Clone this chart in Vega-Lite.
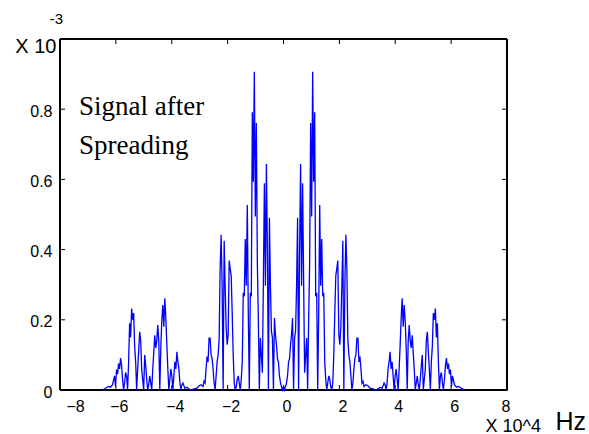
{
  "$schema": "https://vega.github.io/schema/vega-lite/v6.json",
  "width": 447,
  "height": 351,
  "autosize": {"type": "none"},
  "padding": {"left": 60, "top": 39, "right": 82, "bottom": 44},
  "background": "white",
  "title": {
    "text": ["Signal after", "Spreading"],
    "anchor": "start",
    "frame": "group",
    "orient": "top",
    "font": "Liberation Serif",
    "fontSize": 27,
    "fontWeight": "normal",
    "color": "black",
    "baseline": "alphabetic",
    "lineHeight": 39,
    "offset": 0,
    "dx": 19,
    "dy": 170
  },
  "config": {
    "view": {"stroke": null},
    "axis": {
      "grid": false,
      "domain": true,
      "domainColor": "#000000",
      "domainWidth": 1,
      "ticks": false,
      "labelFont": "Liberation Sans",
      "labelFontSize": 16,
      "labelColor": "black",
      "titleFont": "Liberation Sans",
      "titleFontWeight": "normal",
      "titleColor": "black"
    }
  },
  "datasets": {
    "xt": [{"t": -8}, {"t": -6}, {"t": -4}, {"t": -2}, {"t": 0}, {"t": 2}, {"t": 4}, {"t": 6}, {"t": 8}],
    "yt": [{"t": 0}, {"t": 0.2}, {"t": 0.4}, {"t": 0.6}, {"t": 0.8}],
    "spec": [
      {"f": -6.48, "p": 0}, {"f": -6.372, "p": 0.005}, {"f": -6.264, "p": 0.01}, {"f": -6.192, "p": 0.008},
      {"f": -6.12, "p": 0.015}, {"f": -6.048, "p": 0.04}, {"f": -6.012, "p": 0.01}, {"f": -5.976, "p": 0.058},
      {"f": -5.94, "p": 0.045}, {"f": -5.904, "p": 0.075}, {"f": -5.868, "p": 0.06}, {"f": -5.832, "p": 0.091},
      {"f": -5.796, "p": 0.07}, {"f": -5.76, "p": 0.03}, {"f": -5.724, "p": 0}, {"f": -5.688, "p": 0.02},
      {"f": -5.652, "p": 0.05}, {"f": -5.616, "p": 0.04}, {"f": -5.58, "p": 0}, {"f": -5.544, "p": 0.08},
      {"f": -5.508, "p": 0.19}, {"f": -5.472, "p": 0.15}, {"f": -5.436, "p": 0.232}, {"f": -5.4, "p": 0.2},
      {"f": -5.364, "p": 0.219}, {"f": -5.328, "p": 0.125}, {"f": -5.292, "p": 0.08}, {"f": -5.256, "p": 0},
      {"f": -5.22, "p": 0.06}, {"f": -5.184, "p": 0.11}, {"f": -5.148, "p": 0.166}, {"f": -5.112, "p": 0.14},
      {"f": -5.076, "p": 0.06}, {"f": -5.04, "p": 0.03}, {"f": -5.004, "p": 0}, {"f": -4.968, "p": 0.1},
      {"f": -4.932, "p": 0.07}, {"f": -4.896, "p": 0.03}, {"f": -4.86, "p": 0}, {"f": -4.824, "p": 0.015},
      {"f": -4.788, "p": 0.04}, {"f": -4.752, "p": 0.02}, {"f": -4.716, "p": 0}, {"f": -4.68, "p": 0.06},
      {"f": -4.644, "p": 0.105}, {"f": -4.608, "p": 0.156}, {"f": -4.572, "p": 0.12}, {"f": -4.536, "p": 0.14},
      {"f": -4.5, "p": 0.185}, {"f": -4.464, "p": 0.14}, {"f": -4.428, "p": 0}, {"f": -4.392, "p": 0.12},
      {"f": -4.356, "p": 0.198}, {"f": -4.32, "p": 0.242}, {"f": -4.284, "p": 0.18}, {"f": -4.248, "p": 0.261},
      {"f": -4.212, "p": 0.205}, {"f": -4.176, "p": 0.13}, {"f": -4.14, "p": 0.06}, {"f": -4.104, "p": 0},
      {"f": -4.068, "p": 0.03}, {"f": -4.032, "p": 0.06}, {"f": -3.996, "p": 0.04}, {"f": -3.96, "p": 0},
      {"f": -3.924, "p": 0.04}, {"f": -3.888, "p": 0.08}, {"f": -3.852, "p": 0.06}, {"f": -3.816, "p": 0.109},
      {"f": -3.78, "p": 0.08}, {"f": -3.744, "p": 0.06}, {"f": -3.708, "p": 0.02}, {"f": -3.672, "p": 0},
      {"f": -3.636, "p": 0.015}, {"f": -3.6, "p": 0.02}, {"f": -3.564, "p": 0.012}, {"f": -3.528, "p": 0.005},
      {"f": -3.456, "p": 0.008}, {"f": -3.384, "p": 0.003}, {"f": -3.312, "p": 0}, {"f": -3.204, "p": 0.003},
      {"f": -3.096, "p": 0.005}, {"f": -3.024, "p": 0.012}, {"f": -2.952, "p": 0.015}, {"f": -2.88, "p": 0.01},
      {"f": -2.844, "p": 0.025}, {"f": -2.808, "p": 0.02}, {"f": -2.772, "p": 0.06}, {"f": -2.736, "p": 0.095},
      {"f": -2.7, "p": 0.08}, {"f": -2.664, "p": 0.148}, {"f": -2.628, "p": 0.148}, {"f": -2.592, "p": 0.1},
      {"f": -2.556, "p": 0.09}, {"f": -2.52, "p": 0.06}, {"f": -2.484, "p": 0.02}, {"f": -2.448, "p": 0},
      {"f": -2.412, "p": 0.04}, {"f": -2.376, "p": 0.08}, {"f": -2.34, "p": 0.1}, {"f": -2.304, "p": 0.142},
      {"f": -2.268, "p": 0.346}, {"f": -2.232, "p": 0.442}, {"f": -2.196, "p": 0.297}, {"f": -2.16, "p": 0},
      {"f": -2.124, "p": 0.425}, {"f": -2.088, "p": 0.297}, {"f": -2.052, "p": 0.178}, {"f": -2.016, "p": 0.129},
      {"f": -1.98, "p": 0.158}, {"f": -1.944, "p": 0.369}, {"f": -1.908, "p": 0.346}, {"f": -1.872, "p": 0.326},
      {"f": -1.836, "p": 0.218}, {"f": -1.8, "p": 0.1}, {"f": -1.764, "p": 0.02}, {"f": -1.728, "p": 0},
      {"f": -1.692, "p": 0.01}, {"f": -1.656, "p": 0.03}, {"f": -1.62, "p": 0.04}, {"f": -1.584, "p": 0.02},
      {"f": -1.548, "p": 0}, {"f": -1.512, "p": 0.03}, {"f": -1.476, "p": 0.08}, {"f": -1.44, "p": 0.277},
      {"f": -1.404, "p": 0.267}, {"f": -1.368, "p": 0.43}, {"f": -1.332, "p": 0.297}, {"f": -1.296, "p": 0.527},
      {"f": -1.26, "p": 0.218}, {"f": -1.224, "p": 0}, {"f": -1.188, "p": 0.277}, {"f": -1.152, "p": 0.267},
      {"f": -1.116, "p": 0.791}, {"f": -1.08, "p": 0.593}, {"f": -1.044, "p": 0.907}, {"f": -1.008, "p": 0.494},
      {"f": -0.972, "p": 0.761}, {"f": -0.936, "p": 0.362}, {"f": -0.9, "p": 0.198}, {"f": -0.864, "p": 0},
      {"f": -0.828, "p": 0.148}, {"f": -0.792, "p": 0.099}, {"f": -0.756, "p": 0.049}, {"f": -0.72, "p": 0.313},
      {"f": -0.684, "p": 0.589}, {"f": -0.648, "p": 0.297}, {"f": -0.612, "p": 0.644}, {"f": -0.576, "p": 0.396},
      {"f": -0.54, "p": 0}, {"f": -0.504, "p": 0.491}, {"f": -0.468, "p": 0.297}, {"f": -0.432, "p": 0.168},
      {"f": -0.396, "p": 0.148}, {"f": -0.36, "p": 0}, {"f": -0.324, "p": 0.205}, {"f": -0.288, "p": 0.158},
      {"f": -0.252, "p": 0.129}, {"f": -0.216, "p": 0.089}, {"f": -0.18, "p": 0.079}, {"f": -0.144, "p": 0.04},
      {"f": -0.108, "p": 0.02}, {"f": -0.072, "p": 0.01}, {"f": -0.036, "p": 0}, {"f": 0, "p": 0.01},
      {"f": 0.036, "p": 0}, {"f": 0.072, "p": 0.01}, {"f": 0.108, "p": 0.02}, {"f": 0.144, "p": 0.04},
      {"f": 0.18, "p": 0.079}, {"f": 0.216, "p": 0.089}, {"f": 0.252, "p": 0.129}, {"f": 0.288, "p": 0.158},
      {"f": 0.324, "p": 0.205}, {"f": 0.36, "p": 0}, {"f": 0.396, "p": 0.148}, {"f": 0.432, "p": 0.168},
      {"f": 0.468, "p": 0.297}, {"f": 0.504, "p": 0.491}, {"f": 0.54, "p": 0}, {"f": 0.576, "p": 0.396},
      {"f": 0.612, "p": 0.644}, {"f": 0.648, "p": 0.297}, {"f": 0.684, "p": 0.589}, {"f": 0.72, "p": 0.313},
      {"f": 0.756, "p": 0.049}, {"f": 0.792, "p": 0.099}, {"f": 0.828, "p": 0.148}, {"f": 0.864, "p": 0},
      {"f": 0.9, "p": 0.198}, {"f": 0.936, "p": 0.362}, {"f": 0.972, "p": 0.761}, {"f": 1.008, "p": 0.494},
      {"f": 1.044, "p": 0.907}, {"f": 1.08, "p": 0.593}, {"f": 1.116, "p": 0.791}, {"f": 1.152, "p": 0.267},
      {"f": 1.188, "p": 0.277}, {"f": 1.224, "p": 0}, {"f": 1.26, "p": 0.218}, {"f": 1.296, "p": 0.527},
      {"f": 1.332, "p": 0.297}, {"f": 1.368, "p": 0.43}, {"f": 1.404, "p": 0.267}, {"f": 1.44, "p": 0.277},
      {"f": 1.476, "p": 0.08}, {"f": 1.512, "p": 0.03}, {"f": 1.548, "p": 0}, {"f": 1.584, "p": 0.02},
      {"f": 1.62, "p": 0.04}, {"f": 1.656, "p": 0.03}, {"f": 1.692, "p": 0.01}, {"f": 1.728, "p": 0},
      {"f": 1.764, "p": 0.02}, {"f": 1.8, "p": 0.1}, {"f": 1.836, "p": 0.218}, {"f": 1.872, "p": 0.326},
      {"f": 1.908, "p": 0.346}, {"f": 1.944, "p": 0.369}, {"f": 1.98, "p": 0.158}, {"f": 2.016, "p": 0.129},
      {"f": 2.052, "p": 0.178}, {"f": 2.088, "p": 0.297}, {"f": 2.124, "p": 0.425}, {"f": 2.16, "p": 0},
      {"f": 2.196, "p": 0.297}, {"f": 2.232, "p": 0.442}, {"f": 2.268, "p": 0.346}, {"f": 2.304, "p": 0.142},
      {"f": 2.34, "p": 0.1}, {"f": 2.376, "p": 0.08}, {"f": 2.412, "p": 0.04}, {"f": 2.448, "p": 0},
      {"f": 2.484, "p": 0.02}, {"f": 2.52, "p": 0.06}, {"f": 2.556, "p": 0.09}, {"f": 2.592, "p": 0.1},
      {"f": 2.628, "p": 0.148}, {"f": 2.664, "p": 0.148}, {"f": 2.7, "p": 0.08}, {"f": 2.736, "p": 0.095},
      {"f": 2.772, "p": 0.06}, {"f": 2.808, "p": 0.02}, {"f": 2.844, "p": 0.025}, {"f": 2.88, "p": 0.01},
      {"f": 2.952, "p": 0.015}, {"f": 3.024, "p": 0.012}, {"f": 3.096, "p": 0.005}, {"f": 3.204, "p": 0.003},
      {"f": 3.312, "p": 0}, {"f": 3.384, "p": 0.003}, {"f": 3.456, "p": 0.008}, {"f": 3.528, "p": 0.005},
      {"f": 3.564, "p": 0.012}, {"f": 3.6, "p": 0.02}, {"f": 3.636, "p": 0.015}, {"f": 3.672, "p": 0},
      {"f": 3.708, "p": 0.02}, {"f": 3.744, "p": 0.06}, {"f": 3.78, "p": 0.08}, {"f": 3.816, "p": 0.109},
      {"f": 3.852, "p": 0.06}, {"f": 3.888, "p": 0.08}, {"f": 3.924, "p": 0.04}, {"f": 3.96, "p": 0},
      {"f": 3.996, "p": 0.04}, {"f": 4.032, "p": 0.06}, {"f": 4.068, "p": 0.03}, {"f": 4.104, "p": 0},
      {"f": 4.14, "p": 0.06}, {"f": 4.176, "p": 0.13}, {"f": 4.212, "p": 0.205}, {"f": 4.248, "p": 0.261},
      {"f": 4.284, "p": 0.18}, {"f": 4.32, "p": 0.242}, {"f": 4.356, "p": 0.198}, {"f": 4.392, "p": 0.12},
      {"f": 4.428, "p": 0}, {"f": 4.464, "p": 0.14}, {"f": 4.5, "p": 0.185}, {"f": 4.536, "p": 0.14},
      {"f": 4.572, "p": 0.12}, {"f": 4.608, "p": 0.156}, {"f": 4.644, "p": 0.105}, {"f": 4.68, "p": 0.06},
      {"f": 4.716, "p": 0}, {"f": 4.752, "p": 0.02}, {"f": 4.788, "p": 0.04}, {"f": 4.824, "p": 0.015},
      {"f": 4.86, "p": 0}, {"f": 4.896, "p": 0.03}, {"f": 4.932, "p": 0.07}, {"f": 4.968, "p": 0.1},
      {"f": 5.004, "p": 0}, {"f": 5.04, "p": 0.03}, {"f": 5.076, "p": 0.06}, {"f": 5.112, "p": 0.14},
      {"f": 5.148, "p": 0.166}, {"f": 5.184, "p": 0.11}, {"f": 5.22, "p": 0.06}, {"f": 5.256, "p": 0},
      {"f": 5.292, "p": 0.08}, {"f": 5.328, "p": 0.125}, {"f": 5.364, "p": 0.219}, {"f": 5.4, "p": 0.2},
      {"f": 5.436, "p": 0.232}, {"f": 5.472, "p": 0.15}, {"f": 5.508, "p": 0.19}, {"f": 5.544, "p": 0.08},
      {"f": 5.58, "p": 0}, {"f": 5.616, "p": 0.04}, {"f": 5.652, "p": 0.05}, {"f": 5.688, "p": 0.02},
      {"f": 5.724, "p": 0}, {"f": 5.76, "p": 0.03}, {"f": 5.796, "p": 0.07}, {"f": 5.832, "p": 0.091},
      {"f": 5.868, "p": 0.06}, {"f": 5.904, "p": 0.075}, {"f": 5.94, "p": 0.045}, {"f": 5.976, "p": 0.058},
      {"f": 6.012, "p": 0.01}, {"f": 6.048, "p": 0.04}, {"f": 6.12, "p": 0.015}, {"f": 6.192, "p": 0.008},
      {"f": 6.264, "p": 0.01}, {"f": 6.372, "p": 0.005}, {"f": 6.48, "p": 0}
    ]
  },
  "layer": [
    {
      "data": {"name": "xt"},
      "mark": {"type": "rect", "fill": null, "fillOpacity": 0, "stroke": "black", "strokeWidth": 1},
      "encoding": {
        "x": {"datum": -8, "type": "quantitative", "scale": {"domain": [-8, 8], "nice": false, "zero": false}, "axis": null},
        "x2": {"datum": 8},
        "y": {"datum": 0, "type": "quantitative", "scale": {"domain": [0, 1], "nice": false, "zero": false}, "axis": null},
        "y2": {"datum": 1}
      }
    },
    {
      "data": {"name": "xt"},
      "mark": {"type": "tick", "orient": "vertical", "color": "black", "size": 5, "thickness": 1, "opacity": 1, "yOffset": -2.5},
      "encoding": {
        "x": {"field": "t", "type": "quantitative", "axis": null},
        "y": {"datum": 0, "type": "quantitative", "axis": null}
      }
    },
    {
      "data": {"name": "xt"},
      "mark": {"type": "tick", "orient": "vertical", "color": "black", "size": 5, "thickness": 1, "opacity": 1, "yOffset": 2.5},
      "encoding": {
        "x": {"field": "t", "type": "quantitative", "axis": null},
        "y": {"datum": 1, "type": "quantitative", "axis": null}
      }
    },
    {
      "data": {"name": "yt"},
      "mark": {"type": "tick", "orient": "horizontal", "color": "black", "size": 5, "thickness": 1, "opacity": 1, "xOffset": 2.5},
      "encoding": {
        "y": {"field": "t", "type": "quantitative", "axis": null},
        "x": {"datum": -8, "type": "quantitative", "axis": null}
      }
    },
    {
      "data": {"name": "yt"},
      "mark": {"type": "tick", "orient": "horizontal", "color": "black", "size": 5, "thickness": 1, "opacity": 1, "xOffset": -2.5},
      "encoding": {
        "y": {"field": "t", "type": "quantitative", "axis": null},
        "x": {"datum": 8, "type": "quantitative", "axis": null}
      }
    },
    {
      "data": {"name": "spec"},
      "mark": {"type": "line", "strokeOpacity": 0},
      "encoding": {
        "x": {
          "field": "f", "type": "quantitative",
          "axis": {
            "orient": "top",
            "values": [-8, -6, -4, -2, 0, 2, 4, 6, 8],
            "labels": false,
            "title": "-3",
            "titleFontSize": 15,
            "titleAlign": "center",
            "titleBaseline": "alphabetic",
            "titleX": -4,
            "titleY": -16
          }
        },
        "y": {
          "field": "p", "type": "quantitative",
          "axis": {
            "orient": "right",
            "values": [0, 0.2, 0.4, 0.6, 0.8],
            "labels": false,
            "title": "Hz",
            "titleFontSize": 25,
            "titleAngle": 0,
            "titleAlign": "left",
            "titleBaseline": "alphabetic",
            "titleX": 48,
            "titleY": 390
          }
        }
      }
    },
    {
      "data": {"name": "spec"},
      "mark": {"type": "line", "color": "#0000ff", "strokeWidth": 1.3},
      "encoding": {
        "x": {
          "field": "f", "type": "quantitative",
          "axis": {
            "orient": "bottom",
            "values": [-8, -6, -4, -2, 0, 2, 4, 6, 8],
            "labelPadding": 8,
            "labelOffset": {"condition": {"test": "datum.value == -8", "value": 6}, "value": 3},
            "title": "X 10^4",
            "titleFontSize": 18,
            "titleAlign": "left",
            "titleBaseline": "alphabetic",
            "titleAnchor": null,
            "titleX": 425,
            "titleY": 41
          }
        },
        "y": {
          "field": "p", "type": "quantitative",
          "axis": {
            "orient": "left",
            "values": [0, 0.2, 0.4, 0.6, 0.8],
            "labelPadding": 8,
            "labelOffset": 2,
            "labelExpr": "datum.value == 0 ? '0' : format(datum.value, '.1f')",
            "title": "X 10",
            "titleFontSize": 20,
            "titleAngle": 0,
            "titleAlign": "right",
            "titleBaseline": "alphabetic",
            "titleX": -4,
            "titleY": 13
          }
        }
      }
    }
  ],
  "resolve": {"axis": {"x": "independent", "y": "independent"}}
}
